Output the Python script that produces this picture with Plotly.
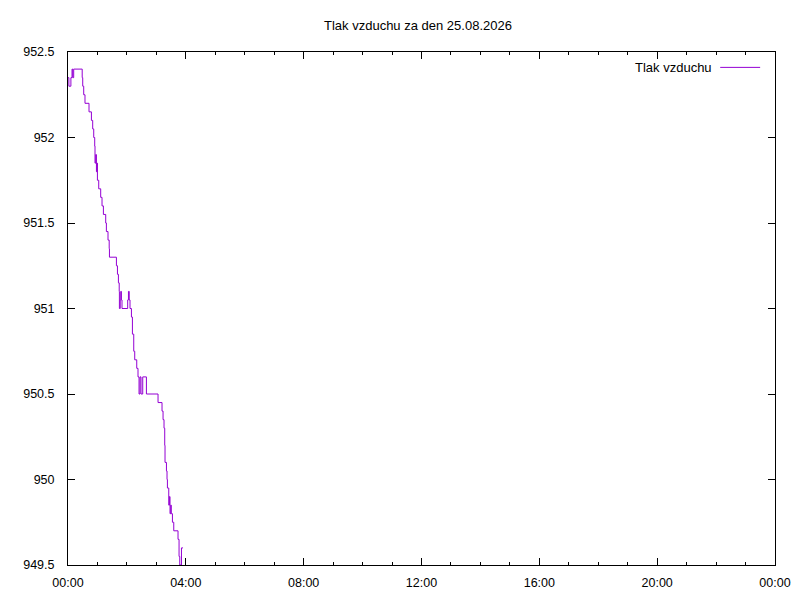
import pandas as pd
import plotly.graph_objects as go

title = "Tlak vzduchu za den 25.08.2026"
series_name = "Tlak vzduchu"
day = "2026-08-25"

# minutes after midnight where the reading changes, and the reading (hPa)
minutes = [0, 1.8, 5.9, 8.2, 9.6, 11.6, 28.9, 30, 32, 34.6,
           42.8, 47.7, 50.3, 52.4, 54.4, 55, 56.4, 57.9, 59.1, 59.9,
           62.6, 66.6, 69.3, 72.1, 76.8, 78.2, 81.5, 83.9, 84.4, 98.6,
           100.7, 102.7, 104.3, 104.7, 106.4, 107.4, 108.8, 110, 121.6, 123.1,
           124.7, 126.3, 129.2, 131.2, 133.9, 135.9, 140, 142.6, 144.7, 146.7,
           148.7, 152.2, 159.7, 183.4, 191.5, 193.6, 195.6, 197, 197.6, 200.5,
           201.7, 202.5, 205.2, 206.6, 207.8, 209.3, 210.3, 212.7, 215.4, 224.1,
           226.2, 227.6, 231.1, 234.3]
pressure = [952.35, 952.30, 952.35, 952.40, 952.35, 952.40, 952.35, 952.30, 952.25, 952.20,
            952.15, 952.10, 952.05, 952.00, 951.95, 951.85, 951.90, 951.80, 951.85, 951.75,
            951.70, 951.65, 951.60, 951.55, 951.50, 951.45, 951.40, 951.35, 951.30, 951.25,
            951.20, 951.15, 951.10, 951.00, 951.05, 951.10, 951.05, 951.00, 951.05, 951.10,
            951.05, 951.00, 950.95, 950.85, 950.75, 950.70, 950.65, 950.60, 950.50, 950.60,
            950.50, 950.60, 950.50, 950.45, 950.40, 950.35, 950.30, 950.20, 950.10, 950.05,
            950.00, 949.95, 949.85, 949.90, 949.80, 949.85, 949.80, 949.75, 949.70, 949.65,
            949.55, 949.50, 949.60, 949.60]

y_ticks = [949.5, 950, 950.5, 951, 951.5, 952, 952.5]
y_labels = ["949.5", "950", "950.5", "951", "951.5", "952", "952.5"]

start = pd.Timestamp(day)
times = start + pd.to_timedelta(minutes, unit="m")

line_color = "#9400d3"
family = "Liberation Sans, Arial, sans-serif"
font = dict(family=family, size=13, color="black")
tick_font = dict(family=family, size=12.5, color="black")

fig = go.Figure()
fig.add_trace(go.Scatter(x=times, y=pressure, mode="lines", line_shape="hv",
                         line=dict(color=line_color, width=1), name=series_name,
                         showlegend=False))

# page body has an 8px margin, so the figure is a bit smaller than the window
fig.update_layout(
    width=792, height=592,
    margin=dict(l=60, r=25, t=44, b=35, autoexpand=False),
    plot_bgcolor="white", paper_bgcolor="white",
    font=font,
    title=dict(text=title, x=0.495, xref="paper", y=0.971, yref="container",
               xanchor="center", yanchor="middle", font=font),
    xaxis=dict(
        type="date",
        range=[start, start + pd.Timedelta(days=1)],
        dtick=4 * 3600 * 1000, tick0=start, tickformat="%H:%M",
        ticks="inside", ticklen=7, tickcolor="black", tickfont=tick_font,
        minor=dict(dtick=3600 * 1000, ticks="inside", ticklen=3, tickcolor="black"),
        showline=True, linecolor="black", linewidth=1, mirror="allticks",
        showgrid=False, zeroline=False, ticklabelstandoff=6,
    ),
    yaxis=dict(
        range=[949.5, 952.5],
        tickvals=y_ticks, ticktext=y_labels, tickfont=tick_font,
        ticks="inside", ticklen=7, tickcolor="black",
        showline=True, linecolor="black", linewidth=1, mirror="allticks",
        showgrid=False, zeroline=False, ticklabelstandoff=10,
    ),
)

# gnuplot-style key: label on the left, line sample on the right
fig.add_annotation(text=series_name, xref="paper", yref="paper",
                   x=0.9135, y=0.97, xanchor="right", yanchor="middle",
                   showarrow=False, font=font)
fig.add_shape(type="line", xref="paper", yref="paper",
              x0=0.9225, x1=0.979, y0=0.97, y1=0.97,
              line=dict(color=line_color, width=1))

fig.write_html("out.html")
